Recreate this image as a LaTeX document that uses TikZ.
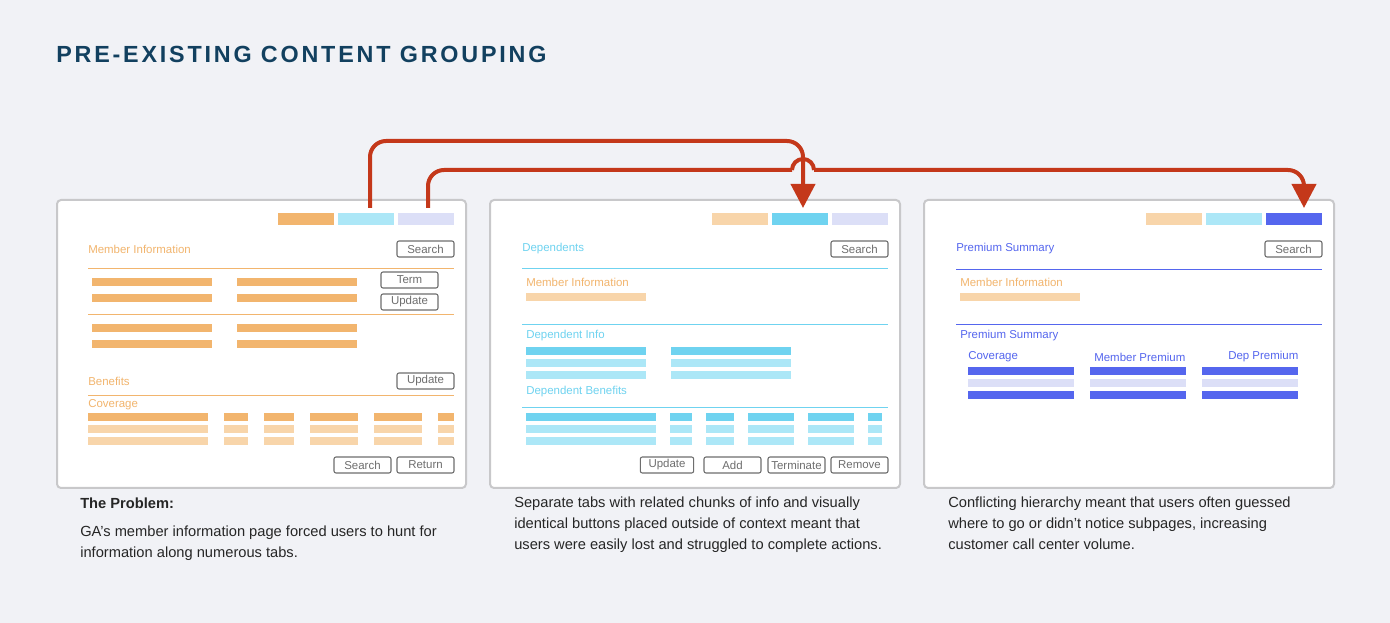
\documentclass[tikz,border=0pt]{standalone}
\usepackage{fontspec}
\setmainfont{Liberation Sans}
\newfontfamily\headfont[LetterSpace=12]{Liberation Sans}
\usetikzlibrary{arrows.meta}
\definecolor{bg}{HTML}{F1F2F6}
\definecolor{frame}{HTML}{C8C8CA}
\definecolor{orD}{HTML}{F2B56E}
\definecolor{orL}{HTML}{F8D5AA}
\definecolor{cyD}{HTML}{6FD3F0}
\definecolor{cyL}{HTML}{ACE7F7}
\definecolor{lav}{HTML}{DCDFF7}
\definecolor{blu}{HTML}{5566EE}
\definecolor{redline}{HTML}{C4381A}
\definecolor{navy}{HTML}{12405F}
\definecolor{btngray}{HTML}{6E6E6E}
\newcommand\strip[4]{\fill[#1] (#2,#3) rectangle ++(#4,8);}
\tikzset{
    win/.style={draw=frame,line width=1.5pt,fill=white,rounded corners=3pt},
    btn/.style={draw=btngray,line width=0.8pt,fill=white,rounded corners=1.5pt,
        minimum width=42.75pt,minimum height=12pt,inner sep=0pt,
        font=\fontsize{8.6}{9}\selectfont,text=btngray},
    hd/.style={anchor=west,inner sep=0pt,font=\fontsize{8.6}{9}\selectfont},
    captext/.style={anchor=north west,inner sep=0pt,align=left,
        font=\fontsize{11}{15.75}\selectfont,text=black!85},
    conn/.style={draw=redline,line width=3pt}
}
\begin{document}
\begin{tikzpicture}[x=0.75pt,y=-0.75pt]
    \fill[bg] (0,0) rectangle (1390,623);
    \useasboundingbox (0,0) rectangle (1390,623);
    \node[anchor=west,inner sep=0pt,text=navy,font=\headfont\bfseries\fontsize{17.5}{20}\selectfont]
        (title) at (56,54) {PRE-EXISTING CONTENT GROUPING};

    % windows
    \draw[win] (57,200) rectangle (466,488);
    \draw[win] (490,200) rectangle (900,488);
    \draw[win] (924,200) rectangle (1334,488);

    % window 1
    \fill[orD] (278,213) rectangle (334,225);
    \fill[cyL] (338,213) rectangle (394,225);
    \fill[lav] (398,213) rectangle (454,225);
    \node[hd,text=orD] (memA) at (88,249) {Member Information};
    \node[btn] (searchA) at (425.5,249) {Search};
    \draw[orD] (88,268) -- (454,268);
    \foreach \y in {278,294,324,340}{\strip{orD}{92}{\y}{120}\strip{orD}{237}{\y}{120}}
    \node[btn] (term) at (409.5,280) {Term};
    \node[btn] (updA) at (409.5,302) {Update};
    \draw[orD] (88,314) -- (454,314);
    \node[hd,text=orD] (ben) at (88,381) {Benefits};
    \node[btn] (updB) at (425.5,381) {Update};
    \draw[orD] (88,395) -- (454,395);
    \node[hd,text=orD] (cov) at (88,405) {Coverage};
    \foreach \y/\c in {413/orD,425/orL,437/orL}{
        \foreach \x/\w in {88/120,224/24,264/30,310/48,374/48,438/16}{\strip{\c}{\x}{\y}{\w}}}
    \node[btn] (searchB) at (362.5,465) {Search};
    \node[btn] (ret) at (425.5,465) {Return};

    % window 2
    \fill[orL] (712,213) rectangle (768,225);
    \fill[cyD] (772,213) rectangle (828,225);
    \fill[lav] (832,213) rectangle (888,225);
    \node[hd,text=cyD] (dep) at (522,249) {Dependents};
    \node[btn] (searchC) at (859.5,249) {Search};
    \draw[cyD] (522,268) -- (888,268);
    \node[hd,text=orD] (memB) at (526,282) {Member Information};
    \strip{orL}{526}{293}{120}
    \draw[cyD] (522,324) -- (888,324);
    \node[hd,text=cyD] (depinfo) at (526,336) {Dependent Info};
    \foreach \y/\c in {347/cyD,359/cyL,371/cyL}{\strip{\c}{526}{\y}{120}\strip{\c}{671}{\y}{120}}
    \node[hd,text=cyD] (depben) at (526,392) {Dependent Benefits};
    \draw[cyD] (522,407) -- (888,407);
    \foreach \y/\c in {413/cyD,425/cyL,437/cyL}{
        \foreach \x/\w in {526/130,670/22,706/28,748/46,808/46,868/14}{\strip{\c}{\x}{\y}{\w}}}
    \node[btn,minimum width=40pt] (updC) at (667,465) {Update};
    \node[btn] (add) at (732.5,465) {Add};
    \node[btn] (termin) at (796.5,465) {Terminate};
    \node[btn] (remove) at (859.5,465) {Remove};

    % window 3
    \fill[orL] (1146,213) rectangle (1202,225);
    \fill[cyL] (1206,213) rectangle (1262,225);
    \fill[blu] (1266,213) rectangle (1322,225);
    \node[hd,text=blu] (prem) at (956,249) {Premium Summary};
    \node[btn] (searchD) at (1293.5,249) {Search};
    \draw[blu] (956,269) -- (1322,269);
    \node[hd,text=orD] (memC) at (960,282) {Member Information};
    \strip{orL}{960}{293}{120}
    \draw[blu] (956,324) -- (1322,324);
    \node[hd,text=blu] (premB) at (960,336) {Premium Summary};
    \node[hd,text=blu] (covB) at (968,357) {Coverage};
    \node[hd,text=blu] (mprem) at (1094,357) {Member Premium};
    \node[hd,text=blu] (dprem) at (1228,357) {Dep Premium};
    \foreach \y/\c in {367/blu,379/lav,391/blu}{
        \foreach \x/\w in {968/106,1090/96,1202/96}{\strip{\c}{\x}{\y}{\w}}}

    % connectors
    \coordinate (fromA) at (370,208);
    \coordinate (fromB) at (428,208);
    \coordinate (toA) at (803,208);
    \coordinate (toB) at (1304,208);
    \draw[conn,rounded corners=12,-{Triangle[width=18pt,length=18pt]}]
        (fromA) -- (fromA|-0,141) -- (toA|-0,141) -- (toA);
    \draw[conn,rounded corners=12] (fromB) -- (fromB|-0,170) -- (792,170);
    \draw[conn] (792,170) arc (180:360:11);
    \draw[conn,rounded corners=12,-{Triangle[width=18pt,length=18pt]}]
        (814,170) -- (toB|-0,170) -- (toB);

    % captions
    \node[captext,font=\bfseries\fontsize{11}{15.75}\selectfont] (probT) at (80,498) {The Problem:};
    \node[captext] (probA) at (80,526) {GA’s member information page forced users to hunt for\\information along numerous tabs.};
    \node[captext] (probB) at (514,497) {Separate tabs with related chunks of info and visually\\identical buttons placed outside of context meant that\\users were easily lost and struggled to complete actions.};
    \node[captext] (probC) at (948,497) {Conflicting hierarchy meant that users often guessed\\where to go or didn’t notice subpages, increasing\\customer call center volume.};
\end{tikzpicture}
\end{document}
